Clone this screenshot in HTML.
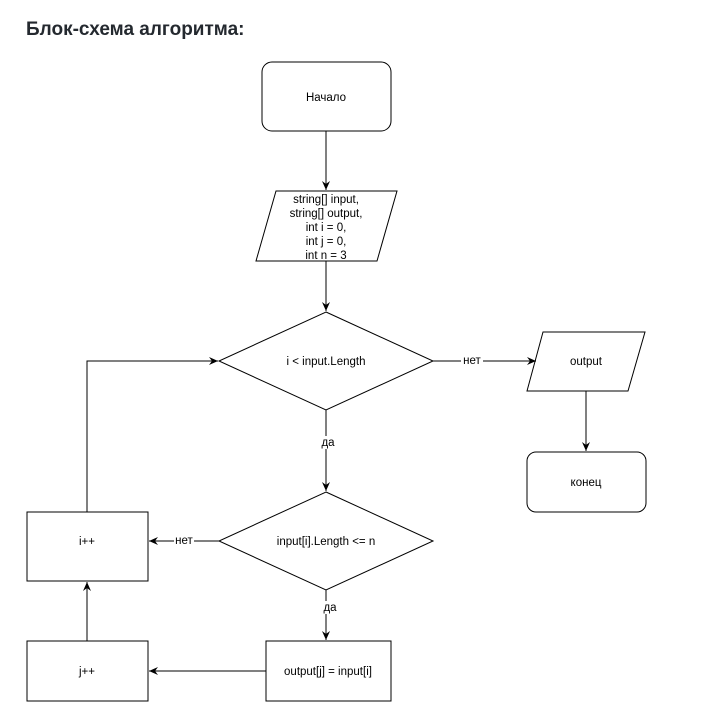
<!DOCTYPE html>
<html><head><meta charset="utf-8"><style>
body{margin:0;background:#fff;width:704px;height:728px;overflow:hidden}
h1{position:absolute;left:26px;top:19px;margin:0;font:bold 19px "Liberation Sans","DejaVu Sans",sans-serif;color:#24292f}
svg{position:absolute;left:0;top:0}
text{font-family:"Liberation Sans",sans-serif;font-size:11.5px;fill:#000;text-anchor:middle}
</style></head><body>
<h1>Блок-схема алгоритма:</h1>
<svg width="704" height="728" viewBox="0 0 704 728">
<defs><marker id="a" markerWidth="10" markerHeight="10" refX="9" refY="5" orient="auto" markerUnits="userSpaceOnUse"><path d="M0,1 L9,5 L0,9 L3,5 Z" fill="#000"/></marker></defs>
<g fill="none" stroke="#000" stroke-width="1">
<rect x="262" y="62" width="129" height="69" rx="10"/>
<polygon points="276,191 397,191 377,261 256,261" fill="#fff"/>
<polygon points="326,312 433,361 326,410 219,361" fill="#fff"/>
<polygon points="543,332 645,332 628,391 527,391" fill="#fff"/>
<rect x="527" y="452" width="119" height="60" rx="9"/>
<polygon points="326,492 433,541 326,590 219,541" fill="#fff"/>
<rect x="27" y="512" width="121" height="69"/>
<rect x="27" y="641" width="121" height="60"/>
<rect x="266" y="641" width="125" height="60"/>
<line x1="326" y1="131" x2="326" y2="190" marker-end="url(#a)"/>
<line x1="326" y1="261" x2="326" y2="311" marker-end="url(#a)"/>
<line x1="433" y1="361" x2="536" y2="361" marker-end="url(#a)"/>
<line x1="586" y1="391" x2="586" y2="451" marker-end="url(#a)"/>
<line x1="326" y1="410" x2="326" y2="491" marker-end="url(#a)"/>
<line x1="219" y1="541" x2="149" y2="541" marker-end="url(#a)"/>
<line x1="326" y1="590" x2="326" y2="640" marker-end="url(#a)"/>
<line x1="266" y1="671" x2="149" y2="671" marker-end="url(#a)"/>
<line x1="87" y1="641" x2="87" y2="582" marker-end="url(#a)"/>
<polyline points="87,512 87,361 218,361" marker-end="url(#a)"/>
</g>
<text x="326" y="101">Начало</text>
<text x="326" y="203">string[] input,</text>
<text x="326" y="217">string[] output,</text>
<text x="326" y="231">int i = 0,</text>
<text x="326" y="245">int j = 0,</text>
<text x="326" y="259">int n = 3</text>
<text x="326" y="365">i &lt;  input.Length</text>
<text x="586" y="365">output</text>
<text x="586" y="486">конец</text>
<text x="326" y="545">input[i].Length &lt;= n</text>
<text x="87" y="545">i++</text>
<text x="87" y="675">j++</text>
<text x="328" y="675">output[j] = input[i]</text>
<rect x="461" y="354" width="22" height="13" fill="#fff"/><text x="472" y="364">нет</text>
<rect x="320" y="436" width="16" height="13" fill="#fff"/><text x="328" y="446">да</text>
<rect x="174" y="534" width="20" height="13" fill="#fff"/><text x="184" y="544">нет</text>
<rect x="322" y="601" width="16" height="13" fill="#fff"/><text x="330" y="611">да</text>
</svg>
</body></html>
